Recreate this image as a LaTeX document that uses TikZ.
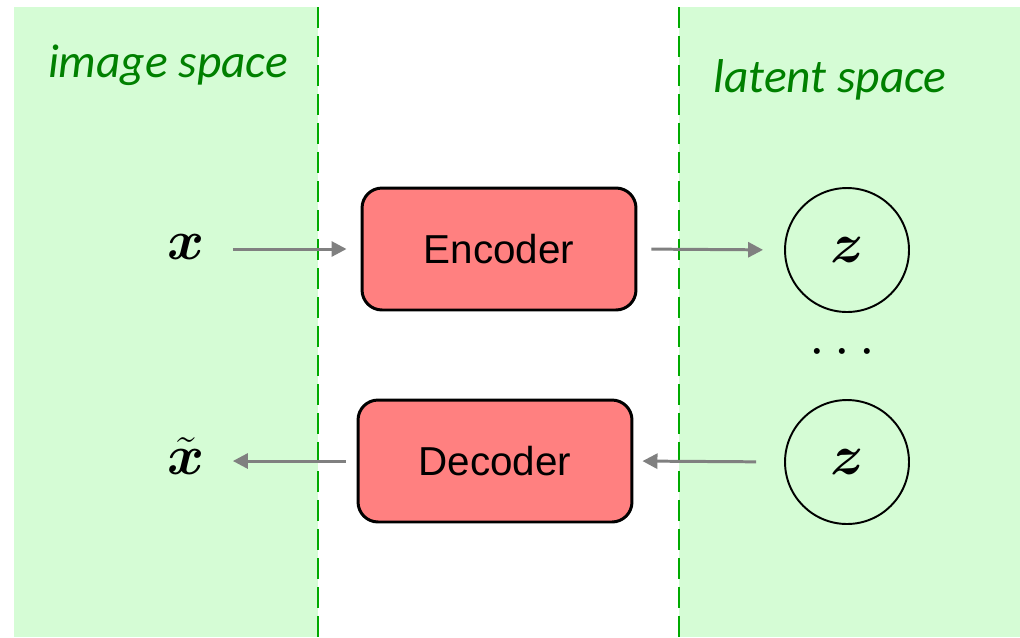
\RequirePackage{fix-cm}
\documentclass[tikz,border=0pt]{standalone}
\usepackage{amsmath}
\usepackage{fontspec}
\setmainfont{Liberation Sans}
\newfontfamily\labelfont{Carlito}
\usetikzlibrary{arrows.meta}
\definecolor{panelgreen}{RGB}{213,252,213}
\definecolor{dashgreen}{RGB}{0,170,0}
\definecolor{labelgreen}{RGB}{0,128,0}
\definecolor{boxred}{RGB}{255,128,128}
\definecolor{arrowgray}{RGB}{128,128,128}
\tikzset{
  panel/.style={fill=panelgreen, draw=none},
  divider/.style={draw=dashgreen, line width=1.1pt, dash pattern=on 0.42cm off 0.16cm},
  spacelabel/.style={text=labelgreen, font=\labelfont\itshape\fontsize{27}{32}\selectfont, inner sep=0pt},
  codebox/.style={draw=black, fill=boxred, line width=1.7pt, rounded corners=0.4cm,
    minimum width=5.48cm, minimum height=2.44cm, font=\fontsize{23}{27}\selectfont},
  latent/.style={draw=black, circle, line width=1.1pt, minimum size=2.48cm, inner sep=0pt,
    font=\fontsize{32}{36}\selectfont},
  var/.style={inner sep=0pt, font=\fontsize{32}{36}\selectfont},
  flow/.style={draw=arrowgray, line width=1.7pt, -{Triangle[length=0.3cm,width=0.3cm]}},
}
\begin{document}
\begin{tikzpicture}[x=0.02cm, y=-0.02cm]
  \useasboundingbox (0,0) rectangle (1020,637);
  % shaded regions for the two spaces
  \fill[panel] (14,7) rectangle (318,637);
  \fill[panel] (679,7) rectangle (1020,637);
  % dashed borders of the regions
  \draw[divider] (318,7) -- (318,637);
  \draw[divider] (679,7) -- (679,637);
  % region titles
  \node[spacelabel] (imglabel) at (168,65) {image space};
  \node[spacelabel] (latlabel) at (830,80) {latent space};
  % encoder / decoder blocks
  \node[codebox] (enc) at (499,249) {Encoder};
  \node[codebox] (dec) at (495,461) {Decoder};
  % latent codes
  \node[latent] (z1) at (847,250) {$\boldsymbol{z}$};
  \node[latent] (z2) at (847,462) {$\boldsymbol{z}$};
  \node[var] (dots) at (847,353) {$\cdots$};
  % input and reconstruction
  \node[var] (x) at (186,247) {$\boldsymbol{x}$};
  \node[var] (xt) at (186,456) {$\tilde{\boldsymbol{x}}$};
  % data flow
  \draw[flow, shorten <=0.56cm, shorten >=0.28cm] (x.east |- enc.west) -- (enc.west);
  \draw[flow, shorten <=0.28cm, shorten >=0.42cm] (enc.east) -- (z1.west);
  \draw[flow, shorten <=0.56cm, shorten >=0.18cm] (z2.west) -- (dec.east);
  \draw[flow, shorten <=0.22cm, shorten >=0.56cm] (dec.west) -- (xt.east |- dec.west);
\end{tikzpicture}
\end{document}
